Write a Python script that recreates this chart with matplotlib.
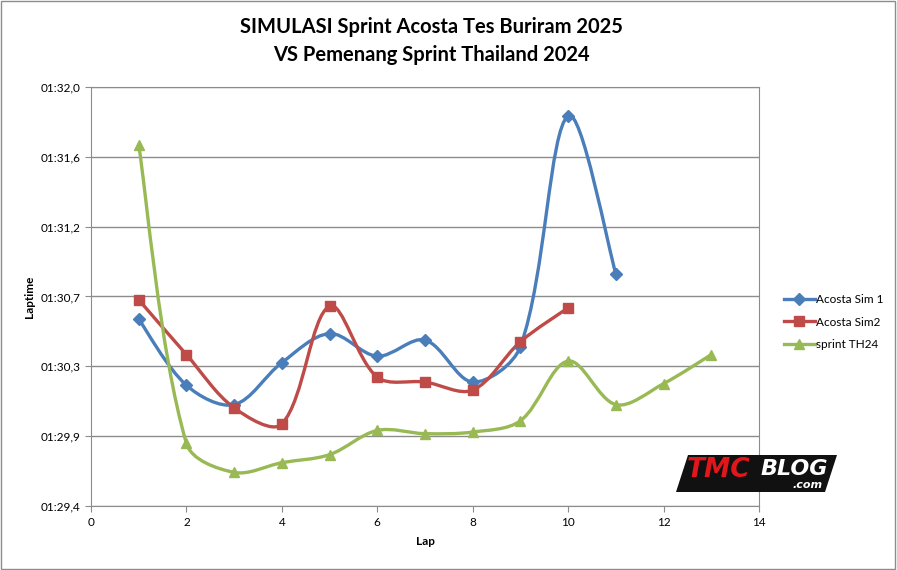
import numpy as np
import matplotlib.pyplot as plt
from matplotlib.path import Path
from matplotlib.patches import PathPatch, Rectangle, Polygon
from matplotlib.lines import Line2D

# lap times in seconds (01:xx,x -> 60 + xx,x)
laps_sim1 = [1, 2, 3, 4, 5, 6, 7, 8, 9, 10, 11]
sim1 = [90.56, 90.15, 90.03, 90.29, 90.47, 90.33, 90.43, 90.17, 90.39, 91.82, 90.84]

laps_sim2 = [1, 2, 3, 4, 5, 6, 7, 8, 9, 10]
sim2 = [90.68, 90.34, 90.01, 89.91, 90.64, 90.20, 90.17, 90.12, 90.42, 90.63]

laps_th24 = [1, 2, 3, 4, 5, 6, 7, 8, 9, 10, 11, 12, 13]
th24 = [91.64, 89.79, 89.61, 89.67, 89.72, 89.87, 89.85, 89.86, 89.93, 90.30, 90.03, 90.16, 90.34]

y_ticklabels = ["01:29,4", "01:29,9", "01:30,3", "01:30,7", "01:31,2", "01:31,6", "01:32,0"]
x_ticks = [0, 2, 4, 6, 8, 10, 12, 14]

title = "SIMULASI Sprint Acosta Tes Buriram 2025\nVS Pemenang Sprint Thailand 2024"
series_names = ["Acosta Sim 1", "Acosta Sim2", "sprint TH24"]
colors = ["#4A7EBB", "#BE4B48", "#98B954"]
markers = ["D", "s", "^"]
msizes = [6, 7.5, 7.5]

ymin, ymax = 89.4, 92.0
px_x = 668 / 14.0          # screen px per lap
px_y = 420 / (ymax - ymin)  # screen px per second


def smooth_path(xs, ys):
    # excel-like smoothed line: tangent (p[i+1]-p[i-1]) split by chord lengths
    pts = np.column_stack([np.array(xs) * px_x, np.array(ys) * px_y]).astype(float)
    n = len(pts)
    verts = [pts[0]]
    codes = [Path.MOVETO]
    for i in range(n - 1):
        p0 = pts[max(i - 1, 0)]
        p1 = pts[i]
        p2 = pts[i + 1]
        p3 = pts[min(i + 2, n - 1)]
        d01 = np.hypot(*(p1 - p0))
        d12 = np.hypot(*(p2 - p1))
        d23 = np.hypot(*(p3 - p2))
        f1 = d12 / (d01 + d12) / 3.0 if d01 > 0 else 1 / 6.0
        f2 = d12 / (d12 + d23) / 3.0 if d23 > 0 else 1 / 6.0
        c1 = p1 + (p2 - p0) * f1
        c2 = p2 - (p3 - p1) * f2
        verts += [c1, c2, p2]
        codes += [Path.CURVE4] * 3
    verts = np.array(verts) / [px_x, px_y]
    return Path(verts, codes)


fig = plt.figure(figsize=(8.97, 5.70), dpi=100)
plt.rcParams['font.family'] = ['Lato', 'DejaVu Sans']

ax = fig.add_axes([0.1014, 0.1118, 0.7448, 0.7361])
ax.set_xlim(0, 14)
ax.set_ylim(ymin, ymax)

yt = np.linspace(ymin, ymax, 7)
ax.set_yticks(yt)
ax.set_yticklabels(y_ticklabels, fontsize=8.5)
ax.set_xticks(x_ticks)
ax.set_xticklabels([str(v) for v in x_ticks], fontsize=8.5)
ax.yaxis.grid(True, color="#8c8c8c", lw=1.0)
ax.set_axisbelow(True)
for s in ax.spines.values():
    s.set_color("#8c8c8c")
ax.tick_params(colors="#8c8c8c", labelcolor="black", length=4, direction="out")

ax.set_xlabel("Lap", fontsize=8.5, fontweight="bold", labelpad=6)
ax.set_ylabel("Laptime", fontsize=8.5, fontweight="bold", labelpad=4)

all_x = [laps_sim1, laps_sim2, laps_th24]
all_y = [sim1, sim2, th24]
handles = []
for xs, ys, c, m, ms, name in zip(all_x, all_y, colors, markers, msizes, series_names):
    patch = PathPatch(smooth_path(xs, ys), fill=False, edgecolor=c, lw=2.4,
                      capstyle="round", joinstyle="round", zorder=3)
    ax.add_patch(patch)
    ax.plot(xs, ys, ls="none", marker=m, ms=ms, color=c, zorder=4)
    handles.append(Line2D([], [], color=c, lw=2.4, marker=m, ms=ms, label=name))

fig.legend(handles=handles, loc="center left", bbox_to_anchor=(0.862, 0.435),
           frameon=False, fontsize=8.5, handlelength=2.6, handletextpad=0.1,
           labelspacing=1.0)

fig.text(0.4805, 0.928, title, ha="center", va="center", fontsize=14.5,
         fontweight="bold", linespacing=1.55)

# TMCBLOG watermark
fig.patches.append(Polygon([[676 / 897, 1 - 492 / 570], [688 / 897, 1 - 455 / 570],
                            [837 / 897, 1 - 455 / 570], [825 / 897, 1 - 492 / 570]],
                           closed=True, transform=fig.transFigure,
                           facecolor="#111111", edgecolor="none", zorder=5))
fig.text(719 / 897, 1 - 470 / 570, "TMC", color="#E3161B", fontsize=19,
         fontweight="black", style="italic", ha="center", va="center", zorder=6,
         family="DejaVu Sans")
fig.text(794 / 897, 1 - 469 / 570, "BLOG", color="white", fontsize=16,
         fontweight="black", style="italic", ha="center", va="center", zorder=6,
         family="DejaVu Sans")
fig.text(808 / 897, 1 - 485 / 570, ".com", color="white", fontsize=8,
         fontweight="bold", style="italic", ha="center", va="center", zorder=6,
         family="DejaVu Sans")

# chart area border
fig.patches.append(Rectangle((0.001, 0.002), 0.997, 0.996, transform=fig.transFigure,
                             fill=False, edgecolor="#8c8c8c", lw=1.0))

fig.savefig("out.png", dpi=100)
